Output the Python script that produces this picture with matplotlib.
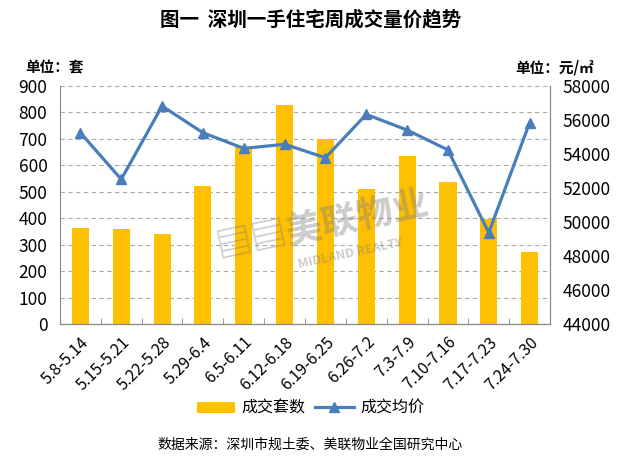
import numpy as np
import matplotlib.pyplot as plt

plt.rcParams['font.family'] = ['Noto Sans CJK SC', 'DejaVu Sans']

# 周期、成交套数、成交均价
weeks = ['5.8-5.14', '5.15-5.21', '5.22-5.28', '5.29-6.4', '6.5-6.11', '6.12-6.18',
         '6.19-6.25', '6.26-7.2', '7.3-7.9', '7.10-7.16', '7.17-7.23', '7.24-7.30']
units = [363, 359, 340, 522, 670, 828, 700, 511, 635, 537, 397, 272]
price = [55250, 52510, 56820, 55250, 54330, 54570, 53780, 56330, 55410, 54240, 49370, 55840]

bar_color = '#FFC000'
line_color = '#4A7EBB'

fig = plt.figure(figsize=(6.21, 4.66), dpi=100)
ax = fig.add_axes([0.0966, 0.3047, 0.7891, 0.5108])
x = np.arange(len(weeks))

bars = ax.bar(x, units, width=0.42, color=bar_color, zorder=2, label='成交套数')
ax.set_xlim(-0.5, len(weeks) - 0.5)
ax.set_ylim(0, 900)
ax.set_yticks(np.arange(0, 901, 100))
ax.grid(axis='y', color='#AAAAAA', linestyle=(0, (4, 3)), linewidth=0.8, zorder=0)
ax.set_axisbelow(True)

ax2 = ax.twinx()
line, = ax2.plot(x, price, color=line_color, linewidth=2.3, marker='^', markersize=7,
                 zorder=3, label='成交均价')
ax2.set_ylim(44000, 58000)
ax2.set_yticks(np.arange(44000, 58001, 2000))

for a in (ax, ax2):
    for s in a.spines.values():
        s.set_color('#888888')
    a.spines['top'].set_visible(False)
    a.tick_params(axis='y', length=0, labelsize=12.5)
ax.tick_params(axis='y', pad=9)
ax2.tick_params(axis='y', pad=9)
ax2.spines['left'].set_visible(False)

# category boundary ticks
ax.set_xticks(x)
ax.set_xticklabels(weeks, rotation=45, ha='right', rotation_mode='anchor', fontsize=11.5)
ax.tick_params(axis='x', length=0, pad=7)
ax.set_xticks(np.arange(-0.5, len(weeks), 1), minor=True)
ax.tick_params(axis='x', which='minor', direction='in', length=4, color='#888888')

# watermark
fig.text(0.52, 0.515, '▤▤美联物业', fontsize=26, color='#808080', alpha=0.4,
         rotation=12, ha='center', va='center', fontweight='bold', zorder=5)
fig.text(0.565, 0.455, 'MIDLAND REALTY', fontsize=9, color='#808080', alpha=0.4,
         rotation=12, ha='center', va='center', fontweight='bold', zorder=5)

fig.text(0.5, 0.958, '图一  深圳一手住宅周成交量价趋势', ha='center', va='center',
         fontsize=14, fontweight='bold')
fig.text(0.04, 0.856, '单位：套', ha='left', va='center', fontsize=10.5, fontweight='bold')
fig.text(0.83, 0.856, '单位：元/㎡', ha='left', va='center', fontsize=10.5, fontweight='bold')

fig.legend(handles=[bars, line], loc='center', bbox_to_anchor=(0.5, 0.124), ncol=2,
           frameon=False, fontsize=11.5, handlelength=2.4, columnspacing=0.6,
           handletextpad=0.4)
fig.text(0.5, 0.045, '数据来源：深圳市规土委、美联物业全国研究中心', ha='center',
         va='center', fontsize=10)

fig.savefig('out.png', dpi=100)
